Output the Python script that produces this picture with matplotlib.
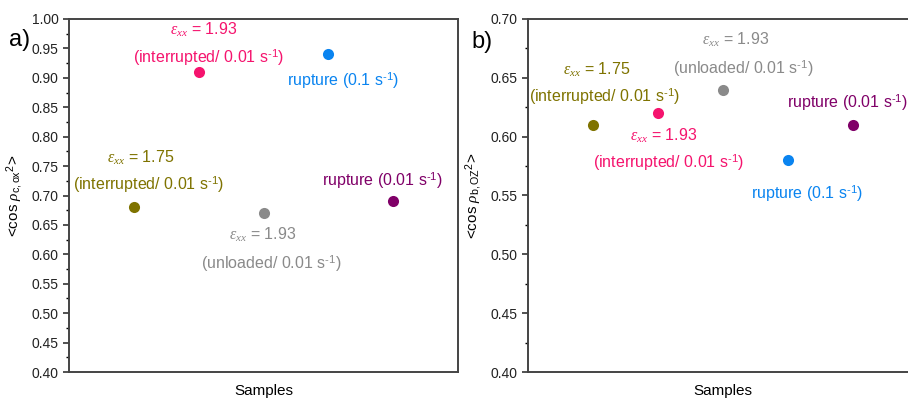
import numpy as np
import matplotlib
matplotlib.use('Agg')
from matplotlib import pyplot as plt
from matplotlib.ticker import MultipleLocator

plt.rcParams['font.family'] = ['Liberation Sans', 'DejaVu Sans']
plt.rcParams['mathtext.fontset'] = 'custom'
plt.rcParams['mathtext.it'] = 'Liberation Serif:italic'
plt.rcParams['mathtext.rm'] = 'Liberation Sans'

# sample order along x
samples = ['eps175_int', 'eps193_int', 'eps193_unl', 'rup_01', 'rup_001']
sample_x = [1, 2, 3, 4, 5]
colors = ['#7f7300', '#f5146e', '#8a8a8a', '#0a84f0', '#800068']

cos_c_ox = [0.68, 0.91, 0.67, 0.94, 0.69]
cos_b_oz = [0.61, 0.62, 0.64, 0.58, 0.61]

eps_lines = [r'$\varepsilon_{xx}$ = 1.75', r'$\varepsilon_{xx}$ = 1.93',
             r'$\varepsilon_{xx}$ = 1.93', None, None]
cond_lines = [r'(interrupted/ 0.01 s$^{\text{-1}}$)',
              r'(interrupted/ 0.01 s$^{\text{-1}}$)',
              r'(unloaded/ 0.01 s$^{\text{-1}}$)',
              r'rupture (0.1 s$^{\text{-1}}$)',
              r'rupture (0.01 s$^{\text{-1}}$)']

# label anchor positions (x, y) for the two text lines of each sample
lab_a = [((1.10, 0.764), (1.22, 0.718)),
         ((2.07, 0.981), (2.16, 0.934)),
         ((2.98, 0.633), (3.12, 0.585)),
         (None, (4.23, 0.896)),
         (None, (4.83, 0.726))]
lab_b = [((1.05, 0.657), (1.18, 0.634)),
         ((2.08, 0.601), (2.17, 0.578)),
         ((3.20, 0.682), (3.31, 0.658)),
         (None, (4.29, 0.552)),
         (None, (4.91, 0.629))]

W, H = 908, 401
fig = plt.figure(figsize=(W / 100, H / 100), dpi=100)
ax_a = fig.add_axes([69 / W, 1 - 372 / H, 389 / W, 353 / H])
ax_b = fig.add_axes([528 / W, 1 - 372 / H, 390 / W, 353 / H])


def draw_panel(ax, vals, labels, ylim, ylabel, tag, tag_xy):
    for i in range(len(sample_x)):
        ax.plot(sample_x[i], vals[i], 'o', color=colors[i], ms=8, mec='none')
        eps_pos, cond_pos = labels[i]
        if eps_pos is not None:
            ax.text(eps_pos[0], eps_pos[1], eps_lines[i], color=colors[i],
                    fontsize=11.5, ha='center', va='center')
        ax.text(cond_pos[0], cond_pos[1], cond_lines[i], color=colors[i],
                fontsize=11.5, ha='center', va='center')
    ax.set_xlim(0, 6)
    ax.set_ylim(*ylim)
    ax.yaxis.set_major_locator(MultipleLocator(0.05))
    ax.yaxis.set_minor_locator(MultipleLocator(0.025))
    ax.yaxis.set_major_formatter(matplotlib.ticker.FormatStrFormatter('%.2f'))
    ax.set_xticks([])
    ax.tick_params(axis='y', direction='out', length=4, width=1.2,
                   colors='#333333', labelsize=10, labelcolor='#222222')
    ax.tick_params(axis='y', which='minor', length=2.5, width=1.0)
    for s in ax.spines.values():
        s.set_color('#444444')
        s.set_linewidth(1.4)
    ax.set_xlabel('Samples', fontsize=11, labelpad=9)
    ax.set_ylabel(ylabel, fontsize=11, labelpad=4)
    fig.text(tag_xy[0] / W, 1 - tag_xy[1] / H, tag, fontsize=17,
             ha='center', va='center')


draw_panel(ax_a, cos_c_ox, lab_a, (0.40, 1.00),
           r'<cos $\rho_{\rm c,ox}{}^{\rm 2}$>', 'a)', (20, 40))
draw_panel(ax_b, cos_b_oz, lab_b, (0.40, 0.70),
           r'<cos $\rho_{\rm b,OZ}{}^{\rm 2}$>', 'b)', (482, 42))

fig.savefig('out.png', dpi=100)
